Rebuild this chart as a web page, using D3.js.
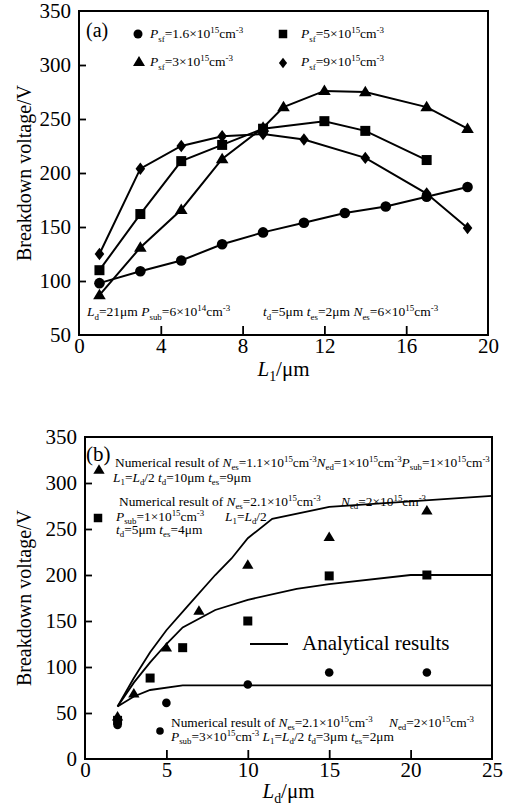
<!DOCTYPE html>
<html><head><meta charset="utf-8">
<script src="https://cdn.jsdelivr.net/npm/d3@7"></script>
<style>
body{margin:0;background:#fff;}
svg{display:block;font-family:"Liberation Serif","Times New Roman",serif;}
text{white-space:pre;}
</style></head>
<body><svg id="c" width="509" height="806"></svg>
<script>
// ---------- Panel (a) data ----------
const aCircleX = [1,3,5,7,9,11,13,15,17,19];
const aCircleY = [98,109,119,134,145,154,163,169,178,187];
const aSquareX = [1,3,5,7,9,12,14,17];
const aSquareY = [110,162,211,226,241,248,239,212];
const aTriX = [1,3,5,7,9,10,12,14,17,19];
const aTriY = [87,131,166,213,242,261,276,275,261,241];
const aDiaX = [1,3,5,7,9,11,14,17,19];
const aDiaY = [125,204,225,234,236,231,214,181,149];
const aXTicks = [0,4,8,12,16,20];
const aYTicks = [50,100,150,200,250,300,350];

// ---------- Panel (b) data ----------
const bTriX = [2,3,5,7,10,15,21];
const bTriY = [46,71,121,161,211,241,270];
const bSqX = [2,4,6,10,15,21];
const bSqY = [42,88,121,150,199,200];
const bCircX = [2,5,10,15,21];
const bCircY = [37,61,81,94,94];
const an1X = [2,3,4,5,6.25,8,9,10,11.5,15,25];
const an1Y = [57,88,116,140,165,200,218,240,261,274,286];
const an2X = [2,3,4,5,6,8,10,13,15,20,25];
const an2Y = [57,83,105,125,143,162,173,185,190,200,200];
const an3X = [2,3,4,6,25];
const an3Y = [57,68,75,80,80];
const bXTicks = [0,5,10,15,20,25];
const bYTicks = [0,50,100,150,200,250,300,350];

const svg = d3.select("#c");

function rich(g, x, y, str, size, anchor){
  const t = g.append("text").attr("x", x).attr("y", y).attr("font-size", size)
    .attr("text-anchor", anchor || "start").attr("fill", "#000");
  const parts = str.split(/(<i>|<\/i>|<sub>|<\/sub>|<sup>|<\/sup>)/).filter(s => s !== "");
  let it = false, mode = 0, cur = 0;
  parts.forEach(p => {
    if (p === "<i>") { it = true; return; }
    if (p === "</i>") { it = false; return; }
    if (p === "<sub>") { mode = 1; return; }
    if (p === "<sup>") { mode = 2; return; }
    if (p === "</sub>" || p === "</sup>") { mode = 0; return; }
    const target = mode === 1 ? size*0.26 : mode === 2 ? -size*0.38 : 0;
    t.append("tspan").text(p)
      .attr("dy", target - cur)
      .attr("font-size", mode ? size*0.66 : size)
      .attr("font-style", it ? "italic" : "normal");
    cur = target;
  });
  return t;
}

function marker(g, type, x, y, s){
  s = s || 1;
  let p;
  if (type === "circle") {
    g.append("circle").attr("cx", x).attr("cy", y).attr("r", 5.3*s).attr("fill", "#000");
    return;
  }
  if (type === "square") {
    const h = 5*s;
    p = `M${x-h},${y-h}H${x+h}V${y+h}H${x-h}Z`;
  } else if (type === "tri") {
    const w = 6.3*s, h = 10.5*s;
    p = `M${x},${y-h*0.6}L${x+w},${y+h*0.4}L${x-w},${y+h*0.4}Z`;
  } else if (type === "dia") {
    const w = 4.8*s, h = 6.2*s;
    p = `M${x},${y-h}L${x+w},${y}L${x},${y+h}L${x-w},${y}Z`;
  }
  g.append("path").attr("d", p).attr("fill", "#000");
}

function frame(g, x, y, xTicks, yTicks, ytick){
  const [x0,x1] = x.range(), [y0,y1] = y.range();
  const ax = d3.axisBottom(x).tickValues(xTicks).tickSize(-9).tickPadding(13).tickFormat(d3.format("d"));
  const gx = g.append("g").attr("transform", `translate(0,${y0})`).call(ax);
  const ay = d3.axisLeft(y).tickValues(yTicks).tickSize(-7).tickPadding(8).tickFormat(d3.format("d"));
  const gy = g.append("g").attr("transform", `translate(${x0},0)`).call(ay);
  [gx, gy].forEach(a => {
    a.attr("font-family", null);
    a.select(".domain").remove();
    a.selectAll(".tick line").attr("stroke", "#000").attr("stroke-width", 1.8);
    a.selectAll(".tick text").attr("font-size", 21).attr("fill", "#000");
  });
  gx.selectAll(".tick text").attr("dy", "0.71em").attr("y", 3);
  gx.selectAll(".tick").filter(d => d === xTicks[0] || d === xTicks[xTicks.length-1]).select("line").remove();
  gy.selectAll(".tick").filter(d => d === yTicks[0] || d === yTicks[yTicks.length-1]).select("line").remove();
  g.append("rect").attr("x", x0).attr("y", y1).attr("width", x1-x0).attr("height", y0-y1)
    .attr("fill", "none").attr("stroke", "#000").attr("stroke-width", 2);
  g.append("text").attr("transform", `translate(${ytick},${(y0+y1)/2}) rotate(-90)`)
    .attr("text-anchor", "middle").attr("font-size", 20).text("Breakdown voltage/V");
}

const line = d3.line();
function series(g, xs, ys, xsc, ysc, type, drawLine, sw, ms){
  const pts = xs.map((v,i) => [xsc(v), ysc(ys[i])]);
  if (drawLine) g.append("path").attr("d", line(pts)).attr("fill", "none")
    .attr("stroke", "#000").attr("stroke-width", sw || 2);
  if (type) pts.forEach(p => marker(g, type, p[0], p[1], ms || 1));
}

// ================= Panel (a) =================
const ga = svg.append("g");
const xa = d3.scaleLinear().domain([0,20]).range([79,488]);
const ya = d3.scaleLinear().domain([50,350]).range([335,11]);
frame(ga, xa, ya, aXTicks, aYTicks, 31);
rich(ga, (79+488)/2, 376, "<i>L</i><sub>1</sub>/μm", 21, "middle");

series(ga, aCircleX, aCircleY, xa, ya, "circle", true);
series(ga, aSquareX, aSquareY, xa, ya, "square", true);
series(ga, aTriX, aTriY, xa, ya, "tri", true);
series(ga, aDiaX, aDiaY, xa, ya, "dia", true);

const fa = 13.5;
ga.append("text").attr("x", 86).attr("y", 37).attr("font-size", 20).text("(a)");
marker(ga, "circle", 138, 34, 0.85);
rich(ga, 150, 38, "<i>P</i><sub>sf</sub>=1.6×10<sup>15</sup>cm<sup>-3</sup>", fa);
marker(ga, "square", 283, 34, 0.85);
rich(ga, 301, 38, "<i>P</i><sub>sf</sub>=5×10<sup>15</sup>cm<sup>-3</sup>", fa);
marker(ga, "tri", 139, 62, 0.95);
rich(ga, 150, 66, "<i>P</i><sub>sf</sub>=3×10<sup>15</sup>cm<sup>-3</sup>", fa);
marker(ga, "dia", 283, 63, 0.85);
rich(ga, 301, 66, "<i>P</i><sub>sf</sub>=9×10<sup>15</sup>cm<sup>-3</sup>", fa);
rich(ga, 87, 316, "<i>L</i><sub>d</sub>=21μm <i>P</i><sub>sub</sub>=6×10<sup>14</sup>cm<sup>-3</sup>", fa);
rich(ga, 263, 316, "<i>t</i><sub>d</sub>=5μm <i>t</i><sub>es</sub>=2μm <i>N</i><sub>es</sub>=6×10<sup>15</sup>cm<sup>-3</sup>", fa);

// ================= Panel (b) =================
const gb = svg.append("g");
const xb = d3.scaleLinear().domain([0,25]).range([85,492]);
const yb = d3.scaleLinear().domain([0,350]).range([759,437]);
frame(gb, xb, yb, bXTicks, bYTicks, 31);
rich(gb, (85+492)/2, 798, "<i>L</i><sub>d</sub>/μm", 21, "middle");

series(gb, an1X, an1Y, xb, yb, null, true, 1.8);
series(gb, an2X, an2Y, xb, yb, null, true, 1.8);
series(gb, an3X, an3Y, xb, yb, null, true, 1.8);
series(gb, bTriX, bTriY, xb, yb, "tri", false, 0, 0.9);
series(gb, bSqX, bSqY, xb, yb, "square", false, 0, 0.9);
bCircX.forEach((v,i) => gb.append("circle").attr("cx", xb(v)).attr("cy", yb(bCircY[i])).attr("r", 4.3).attr("fill", "#000"));

const fb = 13.4;
gb.append("text").attr("x", 86).attr("y", 461).attr("font-size", 21).text("(b)");
marker(gb, "tri", 99, 470, 0.9);
rich(gb, 115, 467, "Numerical result of <i>N</i><sub>es</sub>=1.1×10<sup>15</sup>cm<sup>-3</sup><i>N</i><sub>ed</sub>=1×10<sup>15</sup>cm<sup>-3</sup><i>P</i><sub>sub</sub>=1×10<sup>15</sup>cm<sup>-3</sup>", fb);
rich(gb, 113, 482, "<i>L</i><sub>1</sub>=<i>L</i><sub>d</sub>/2 <i>t</i><sub>d</sub>=10μm <i>t</i><sub>es</sub>=9μm", fb);
rich(gb, 119, 506, "Numerical result of <i>N</i><sub>es</sub>=2.1×10<sup>15</sup>cm<sup>-3</sup>", fb);
rich(gb, 341, 506, "<i>N</i><sub>ed</sub>=2×10<sup>15</sup>cm<sup>-3</sup>", fb);
marker(gb, "square", 98, 518, 0.85);
rich(gb, 116, 521, "<i>P</i><sub>sub</sub>=1×10<sup>15</sup>cm<sup>-3</sup>", fb);
rich(gb, 225, 521, "<i>L</i><sub>1</sub>=<i>L</i><sub>d</sub>/2", fb);
rich(gb, 116, 534, "<i>t</i><sub>d</sub>=5μm <i>t</i><sub>es</sub>=4μm", fb);

gb.append("line").attr("x1", 250).attr("x2", 288).attr("y1", 644).attr("y2", 644)
  .attr("stroke", "#000").attr("stroke-width", 1.8);
gb.append("text").attr("x", 302).attr("y", 650).attr("font-size", 21).text("Analytical results");

gb.append("circle").attr("cx", 160).attr("cy", 731).attr("r", 3.8).attr("fill", "#000");
rich(gb, 171, 727, "Numerical result of <i>N</i><sub>es</sub>=2.1×10<sup>15</sup>cm<sup>-3</sup>", fb);
rich(gb, 389, 727, "<i>N</i><sub>ed</sub>=2×10<sup>15</sup>cm<sup>-3</sup>", fb);
rich(gb, 171, 741, "<i>P</i><sub>sub</sub>=3×10<sup>15</sup>cm<sup>-3</sup> <i>L</i><sub>1</sub>=<i>L</i><sub>d</sub>/2 <i>t</i><sub>d</sub>=3μm <i>t</i><sub>es</sub>=2μm", fb);
</script></body></html>
